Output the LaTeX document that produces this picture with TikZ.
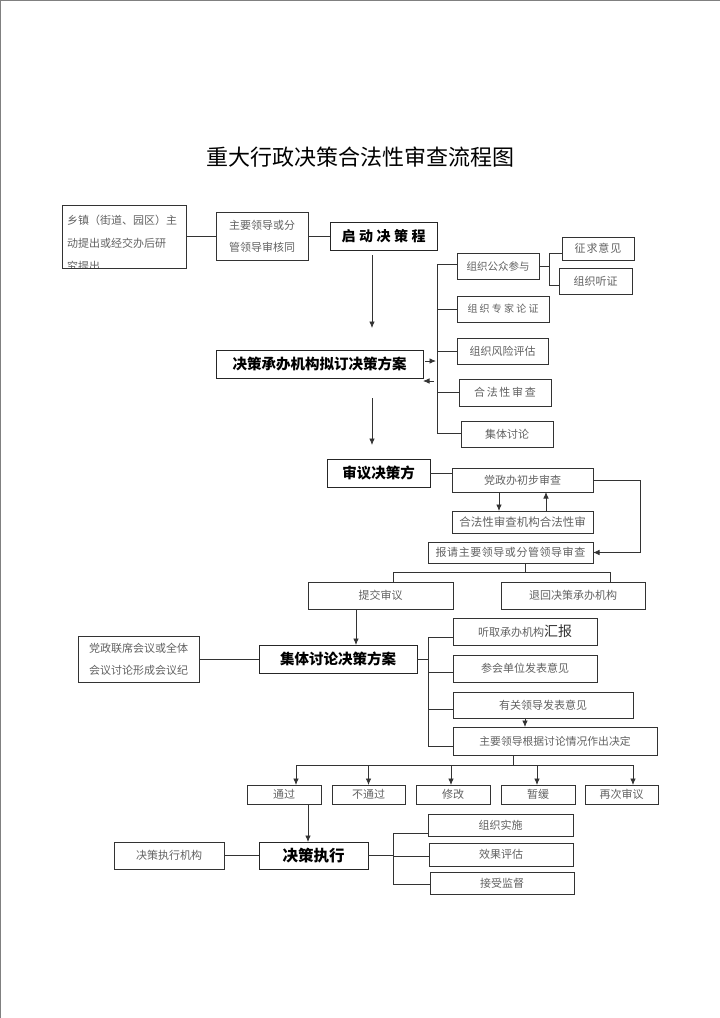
\documentclass[tikz,border=0pt]{standalone}
\usepackage{fontspec}
\setmainfont{Noto Sans CJK SC}
\usetikzlibrary{arrows.meta}
\newcommand\bx[7][box]{\node[#1, minimum width={#5-#3}, minimum height={#6-#4}] (#2) at ({(#3+#5)/2},{(#4+#6)/2}) {#7};}
\begin{document}
\begin{tikzpicture}[x=1pt,y=-1pt,
  box/.style={draw=black!80, line width=0.8pt, inner sep=0pt, outer sep=0pt, text=black!62, align=center, font=\fontsize{11}{22}\selectfont},
  bbox/.style={draw=black!85, line width=0.9pt, inner sep=0pt, outer sep=0pt, text=black, align=center, font=\bfseries\fontsize{14.5}{16}\selectfont},
  ln/.style={draw=black!80, line width=0.8pt},
  arr/.style={ln, -{Latex[length=6.5pt,width=5.5pt]}},
  sp/.style={font=\fontsize{11}{22}\selectfont\addfontfeature{LetterSpace=#1}}
]
\useasboundingbox (0,0) rectangle (720,1018);
\draw[black!50, line width=1pt] (0,0.5) -- (720,0.5);
\draw[black!50, line width=1pt] (0.5,0) -- (0.5,1018);

% title
\node[font=\fontsize{22}{24}\selectfont] (T) at (360,157) {重大行政决策合法性审查流程图};

% top row
\bx{A}{62}{205}{186}{268}{}
\begin{scope}
\clip (62,205) rectangle (186,267.6);
\node[anchor=north west, inner sep=0pt, align=left, text width=120pt, text=black!62, font=\fontsize{11}{23}\selectfont] (At) at (67,215) {乡镇（街道、园区）主\\动提出或经交办后研\\究提出};
\end{scope}
\bx{B}{216}{212}{308}{260}{主要领导或分\\管领导审核同}
\bx[bbox, font=\bfseries\fontsize{14}{16}\selectfont\addfontfeature{LetterSpace=25}]{C}{330}{222}{437}{250}{启动决策程}
\draw[ln] (A.east |- B.west) -- (B.west);
\draw[ln] (B.east) -- (B.east -| C.west);

\coordinate (c1) at (372,255);
\coordinate (c2) at (372,328);
\draw[arr] (c1) -- (c2);

\bx[bbox]{D}{216}{350}{423}{378}{决策承办机构拟订决策方案}
\coordinate (d1) at (372,398);
\coordinate (d2) at (372,445);
\draw[arr] (d1) -- (d2);
\coordinate (da1) at (425,361);
\coordinate (da2) at (436,361);
\coordinate (db1) at (434,381);
\coordinate (db2) at (423,381);
\draw[arr] (da1) -- (da2);
\draw[arr] (db1) -- (db2);

% branch boxes
\bx[box, font=\fontsize{10.5}{12}\selectfont]{P1}{457}{253}{539}{279}{组织公众参与}
\bx[box, font=\fontsize{10}{12}\selectfont\addfontfeature{LetterSpace=22}]{P2}{457}{296}{549}{322}{组织专家论证}
\bx{P3}{457}{338}{548}{364}{组织风险评估}
\bx[box, sp=15]{P4}{459}{379}{551}{406}{合法性审查}
\bx{P5}{461}{421}{553}{447}{集体讨论}
\coordinate (bt) at (437,264);
\coordinate (bb) at (437,433);
\draw[ln] (bt) -- (bb);
\draw[ln] (bt) -- (bt -| P1.west);
\draw[ln] (P2.west -| bt) -- (P2.west);
\draw[ln] (P3.west -| bt) -- (P3.west);
\draw[ln] (P4.west -| bt) -- (P4.west);
\draw[ln] (bb) -- (bb -| P5.west);

\bx[box, sp=8]{Q1}{562}{237}{634}{260}{征求意见}
\bx{Q2}{559}{268}{632}{294}{组织听证}
\coordinate (s1) at (549,253);
\coordinate (s2) at (549,285);
\draw[ln] (P1.east) -- (P1.east -| s1);
\draw[ln] (s1) -- (s2);
\draw[ln] (s1) -- (s1 -| Q1.west);
\draw[ln] (s2) -- (s2 -| Q2.west);

% review
\bx[bbox]{E}{327}{459}{430}{487}{审议决策方}
\bx{F}{452}{468}{593}{492}{党政办初步审查}
\bx[box, font=\fontsize{11.5}{12}\selectfont]{G}{452}{511}{593}{533}{合法性审查机构合法性审}
\bx[box, sp=5]{H}{428}{542}{593}{563}{报请主要领导或分管领导审查}
\draw[ln] (E.east) -- (E.east -| F.west);
\draw[arr] ([xshift=-23.5]F.south) -- ([xshift=-23.5]G.north);
\draw[arr] ([xshift=23.5]G.north) -- ([xshift=23.5]F.south);
\draw[arr] (F.east) -- ++(47,0) |- (H.east);

\bx{I1}{308}{582}{453}{609}{提交审议}
\bx{I2}{501}{582}{645}{609}{退回决策承办机构}
\coordinate (hl) at (393,572);
\coordinate (hr) at (610,572);
\draw[ln] ([xshift=14.5]H.south) -- ([xshift=14.5]H.south |- hl);
\draw[ln] (hl) -- (hr);
\draw[ln] (hl) -- (hl |- I1.north);
\draw[ln] (hr) -- (hr |- I2.north);

% collective discussion
\bx[bbox]{J}{259}{645}{417}{673}{集体讨论决策方案}
\draw[arr] ([xshift=-24.5]I1.south) -- ([xshift=18]J.north);
\bx{K}{78}{636}{199}{682}{党政联席会议或全体\\会议讨论形成会议纪}
\draw[ln] (K.east) -- (K.east -| J.west);

\bx{L1}{453}{618}{597}{645}{听取承办机构{\color{black!80}\fontsize{14}{14}\selectfont 汇报}}
\bx{L2}{453}{655}{597}{682}{参会单位发表意见}
\bx{L3}{453}{692}{633}{718}{有关领导发表意见}
\bx[box, font=\fontsize{10.8}{12}\selectfont]{L4}{453}{727}{657}{755}{主要领导根据讨论情况作出决定}
\coordinate (ba) at (428,637);
\coordinate (bd) at (428,746);
\draw[ln] (ba) -- (bd);
\draw[ln] (J.east) -- (J.east -| ba);
\draw[ln] (ba) -- (ba -| L1.west);
\draw[ln] ([yshift=-3.5]L2.west) -- ([yshift=-3.5]L2.west -| ba);
\draw[ln] ([yshift=-4]L3.west) -- ([yshift=-4]L3.west -| ba);
\draw[ln] (bd) -- (bd -| L4.west);
\draw[arr] ([xshift=-18]L3.south) -- ([xshift=-30]L4.north);

% outcomes
\bx{M1}{247}{785}{321}{804}{通过}
\bx{M2}{332}{785}{405}{804}{不通过}
\bx{M3}{416}{785}{490}{804}{修改}
\bx{M4}{501}{785}{575}{804}{暂缓}
\bx{M5}{585}{785}{658}{804}{再次审议}
\coordinate (m1) at (296,765);
\coordinate (m5) at (633,765);
\draw[ln] ([xshift=-42]L4.south) -- ([xshift=-42]L4.south |- m1);
\draw[ln] (m1) -- (m5);
\draw[arr] (m1) -- (m1 |- M1.north);
\draw[arr] (M2.north |- m1) -- (M2.north);
\draw[arr] ([xshift=-2]M3.north |- m1) -- ([xshift=-2]M3.north);
\draw[arr] ([xshift=-1]M4.north |- m1) -- ([xshift=-1]M4.north);
\draw[arr] (m5) -- (m5 |- M5.north);

% execution
\bx[bbox, font=\bfseries\fontsize{15.5}{17}\selectfont]{N}{259}{842}{368}{869}{决策执行}
\draw[arr] ([xshift=24]M1.south) -- ([xshift=-5.5]N.north);
\bx{O}{114}{842}{224}{869}{决策执行机构}
\draw[ln] (O.east) -- (N.west);
\bx{R1}{428}{814}{573}{836}{组织实施}
\bx{R2}{429}{843}{573}{866}{效果评估}
\bx{R3}{430}{872}{574}{894}{接受监督}
\coordinate (ra) at (393,833);
\coordinate (rc) at (393,884);
\draw[ln] (ra) -- (rc);
\draw[ln] (N.east) -- (N.east -| ra);
\draw[ln] (ra) -- (ra -| R1.west);
\draw[ln] ([yshift=-1.5]R2.west) -- ([yshift=-1.5]R2.west -| ra);
\draw[ln] (rc) -- (rc -| R3.west);
\end{tikzpicture}
\end{document}
